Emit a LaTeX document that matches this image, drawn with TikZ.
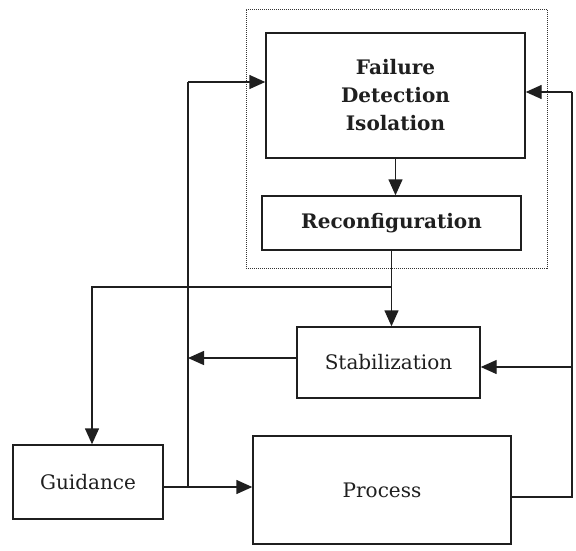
\documentclass[tikz,border=0pt]{standalone}
\usepackage{fontspec}
\setmainfont{DejaVu Serif}
\usetikzlibrary{arrows.meta}
\begin{document}
\begin{tikzpicture}[x=1pt,y=-1pt,
  blk/.style={draw=black!88, line width=1.4pt, inner sep=0pt, align=center, text=black!88,
              font=\fontsize{20}{28}\selectfont},
  bblk/.style={blk, font=\fontsize{20}{28}\selectfont\bfseries},
  conn/.style={draw=black!88, line width=1.4pt},
  arr/.style={conn, -{Triangle[length=16pt,width=14pt]}},
  grpbox/.style={draw=black!80, line width=1pt, dash pattern=on 1pt off 1pt, inner sep=0pt}]
\useasboundingbox (0,0) rectangle (576,550);
\fill[white] (0,0) rectangle (576,550);
% group (dotted)
\node[grpbox, minimum width=301pt, minimum height=259pt] (grp) at (396.5,138.5) {};
% blocks
\node[bblk, minimum width=259pt, minimum height=125pt] (fdi) at (395.5,95.5) {Failure\\Detection\\Isolation};
\node[bblk, minimum width=259pt, minimum height=54pt] (rec) at (391.5,223) {Reconfiguration};
\node[blk, minimum width=183pt, minimum height=71pt] (stab) at (388.5,362.5) {Stabilization};
\node[blk, minimum width=258pt, minimum height=108pt] (proc) at (382,490) {Process};
\node[blk, minimum width=150pt, minimum height=74pt] (gui) at (88,482) {Guidance};
% junction coordinates
\coordinate (jtop) at (188,82);
\coordinate (jmid) at (188,358);
\coordinate (jbot) at (188,487);
\coordinate (rtop) at (572,92);
\coordinate (rmid) at (572,367);
\coordinate (rbot) at (572,497);
\coordinate (br) at (391.5,287);
\coordinate (gl) at (92,287);
% connectors
\draw[arr] (fdi.south) -- (fdi.south |- rec.north);
\draw[arr] (rec.south) -- (rec.south |- stab.north);
\draw[arr] (br) -- (gl) -- (gl |- gui.north);
\draw[arr] (stab.west |- jmid) -- (jmid);
\draw[conn] (jbot) -- (jtop);
\draw[arr] (jtop) -- (jtop -| fdi.west);
\draw[arr] (gui.east |- jbot) -- (proc.west |- jbot);
\draw[conn] (proc.east |- rbot) -- (rbot) -- (rtop);
\draw[arr] (rtop) -- (rtop -| fdi.east);
\draw[arr] (rmid) -- (rmid -| stab.east);
\end{tikzpicture}
\end{document}
